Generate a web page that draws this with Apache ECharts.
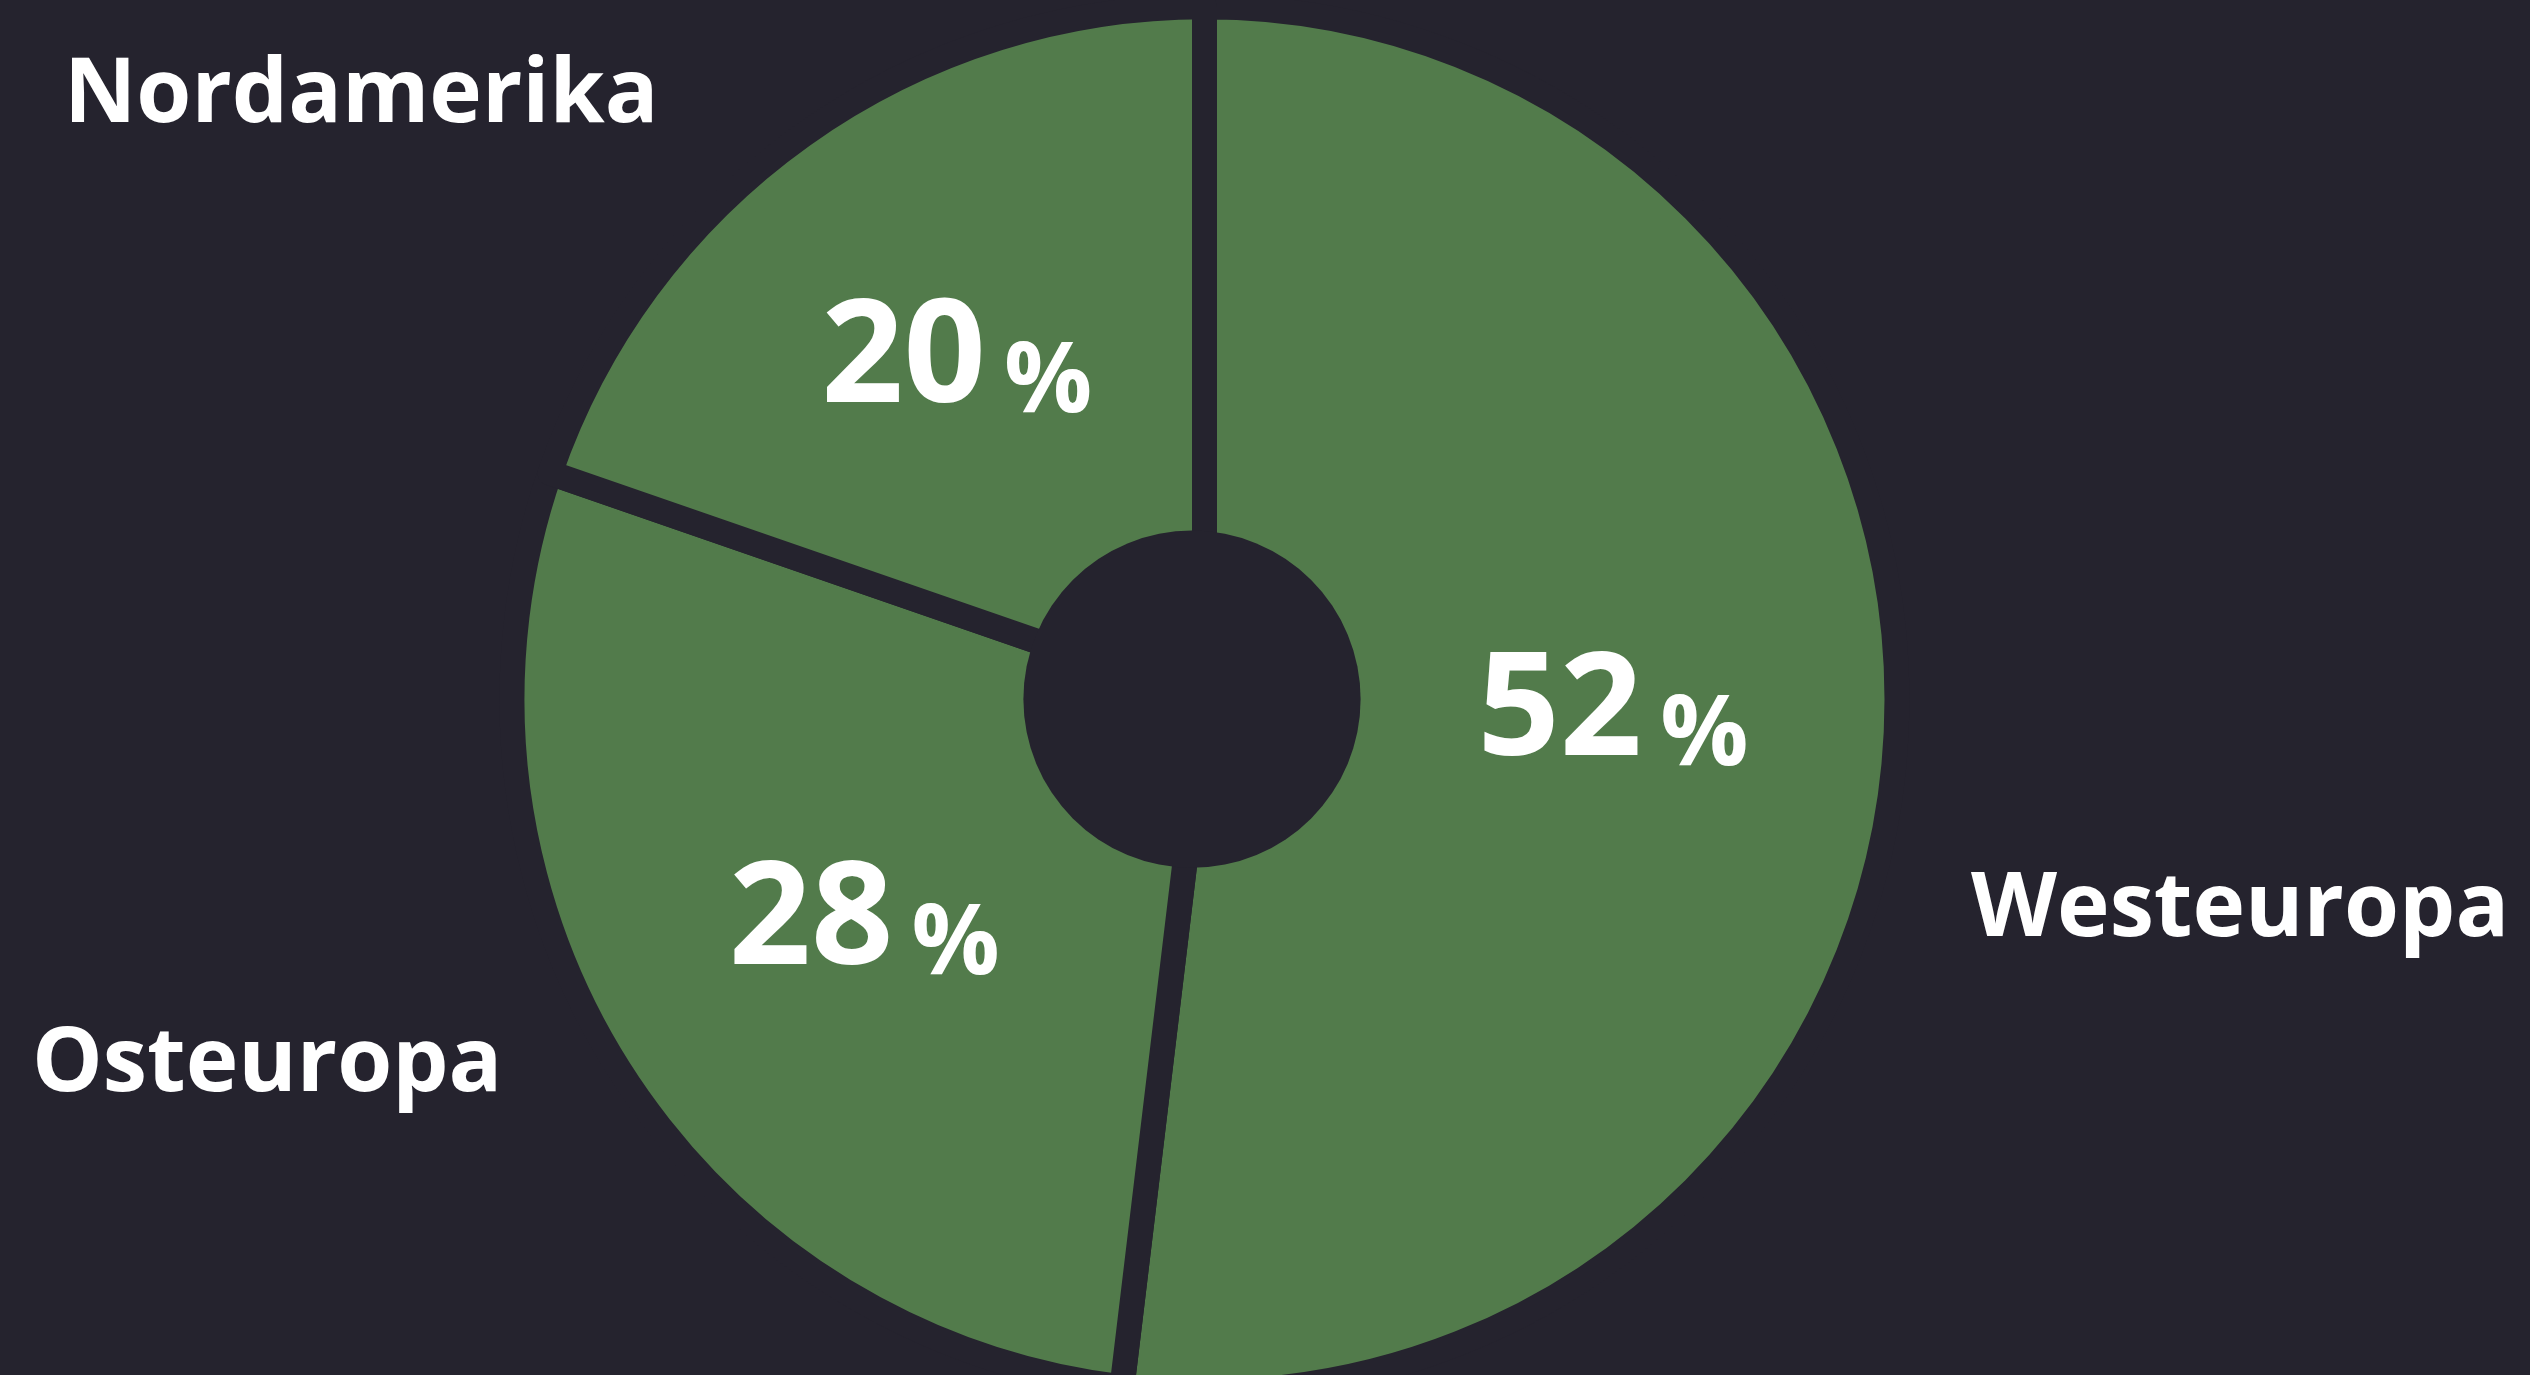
<!DOCTYPE html>
<html>
<head>
<meta charset="utf-8">
<title>Anteile nach Region</title>
<script src="https://cdn.jsdelivr.net/npm/echarts@6/dist/echarts.min.js"></script>
<style>
  html, body { margin: 0; padding: 0; background: #25232e; }
  #chart { width: 2530px; height: 1375px; }
</style>
</head>
<body>
<div id="chart"></div>
<script>
const regions = ['Westeuropa', 'Osteuropa', 'Nordamerika']
const shares = [51.9, 28.4, 19.7]

const bg = '#25232e'
const green = '#527b4b'

// Position der Regionsnamen (linke Kante, Mitte der Schrift)
const namePos = {
  Westeuropa: [1971, 911],
  Osteuropa: [32, 1066],
  Nordamerika: [64, 97]
}
// kleine Korrektur der Prozentwerte im Ring
const pctShift = {
  Westeuropa: [-11, -10],
  Osteuropa: [16, 1],
  Nordamerika: [-4, 4]
}

const pieData = regions.map((name, i) => ({ name: name, value: shares[i] }))

const chart = echarts.init(document.getElementById('chart'))

chart.setOption({
  backgroundColor: bg,
  animation: false,
  graphic: [
    {
      // Loch in der Mitte (leicht nach links versetzt wie im Original)
      type: 'circle',
      z: 100,
      silent: true,
      shape: { cx: 1192, cy: 699.2, r: 168.6 },
      style: { fill: bg }
    }
  ],
  series: [
    {
      type: 'pie',
      center: [1204.5, 699.3],
      radius: [142, 692.5],
      startAngle: 90,
      clockwise: true,
      silent: true,
      itemStyle: {
        color: green,
        borderColor: bg,
        borderWidth: 25
      },
      label: {
        show: true,
        position: 'inside',
        formatter: (p) => '{a|' + Math.round(p.value) + '}{b|%}',
        rich: {
          a: {
            color: '#fff',
            fontFamily: 'Open Sans',
            fontWeight: 'bold',
            fontSize: 144,
            lineHeight: 144,
            verticalAlign: 'bottom'
          },
          b: {
            color: '#fff',
            fontFamily: 'Open Sans',
            fontWeight: 'bold',
            fontSize: 98,
            lineHeight: 140,
            verticalAlign: 'bottom',
            padding: [0, 0, 0, 18]
          }
        }
      },
      labelLine: { show: false },
      labelLayout: function (params) {
        const d = pctShift[regions[params.dataIndex]]
        return { dx: d[0], dy: d[1] }
      },
      data: pieData
    },
    {
      // nur für die Beschriftung außen
      type: 'pie',
      center: [1204.5, 699.3],
      radius: [142, 692.5],
      startAngle: 90,
      silent: true,
      itemStyle: { color: 'transparent' },
      label: {
        show: true,
        position: 'outside',
        formatter: '{b}',
        color: '#fff',
        fontFamily: 'Open Sans',
        fontWeight: 'bold',
        fontSize: 89
      },
      labelLine: { show: false },
      labelLayout: function (params) {
        const p = namePos[regions[params.dataIndex]]
        return { x: p[0], y: p[1], align: 'left', verticalAlign: 'middle' }
      },
      data: pieData
    }
  ]
})

window.addEventListener('resize', () => chart.resize())
</script>
</body>
</html>
